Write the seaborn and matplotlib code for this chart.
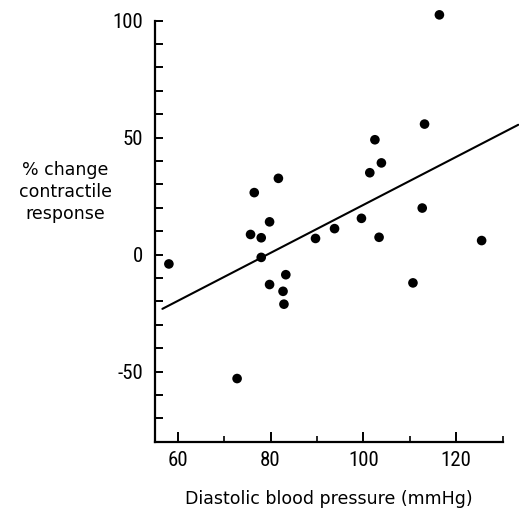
import numpy as np
import pandas as pd
import seaborn as sns
import matplotlib
matplotlib.use("Agg")
from matplotlib import pyplot as plt, font_manager
from matplotlib.ticker import MultipleLocator

# values
diastolic = [116.4, 113.2, 102.5, 103.9, 101.4, 81.7, 76.5, 112.7, 99.6, 79.8,
             93.8, 75.7, 78.0, 89.7, 103.4, 125.5, 78.0, 58.1, 83.3, 79.8,
             110.7, 82.7, 82.9, 72.8]
pct_change = [102.5, 55.8, 49.1, 39.2, 35.0, 32.6, 26.5, 19.9, 15.5, 14.0,
              11.1, 8.6, 7.2, 6.9, 7.4, 6.0, -1.2, -4.0, -8.6, -12.8,
              -12.1, -15.7, -21.2, -53.0]
# fitted line as drawn in the figure
fit_x = [56.7, 133.4]
fit_y = [-23.2, 55.5]

df = pd.DataFrame({"dbp": diastolic, "resp": pct_change})
fit = pd.DataFrame({"dbp": fit_x, "resp": fit_y})


def first_font(names):
    # pick the first narrow family that is actually installed
    for name in names:
        try:
            font_manager.findfont(font_manager.FontProperties(family=name),
                                  fallback_to_default=False)
            return name
        except ValueError:
            continue
    return "DejaVu Sans"


sns.set_style("ticks")
plt.rcParams["font.family"] = ["DejaVu Sans"]
plt.rcParams["axes.unicode_minus"] = False
for key in ["text.color", "axes.labelcolor", "xtick.color", "ytick.color", "axes.edgecolor"]:
    plt.rcParams[key] = "black"

tick_font = first_font(["Liberation Sans Narrow", "DejaVu Sans Condensed",
                        "Roboto Condensed", "Open Sans Condensed"])
tick_stretch = "normal" if tick_font != "DejaVu Sans" else "condensed"

fig = plt.figure(figsize=(5.19, 5.09), dpi=100)
ax = fig.add_axes([154.5 / 519, 1 - 441.7 / 509, 348 / 519, 421 / 509])

sns.lineplot(data=fit, x="dbp", y="resp", ax=ax, color="black", lw=1.5, clip_on=False)
sns.scatterplot(data=df, x="dbp", y="resp", ax=ax, color="black", s=48,
                edgecolor="none", clip_on=False, zorder=3)

ax.set_xlim(55, 130)
ax.set_ylim(-80, 100)
sns.despine(ax=ax)
for side in ["left", "bottom"]:
    ax.spines[side].set_linewidth(1.6)

ax.xaxis.set_major_locator(MultipleLocator(20))
ax.xaxis.set_minor_locator(MultipleLocator(10))
ax.yaxis.set_major_locator(MultipleLocator(50))
ax.yaxis.set_minor_locator(MultipleLocator(10))
ax.tick_params(axis="x", which="major", direction="in", length=7, width=1.4, pad=7)
ax.tick_params(axis="x", which="minor", direction="in", length=4, width=1.2)
ax.tick_params(axis="y", which="both", direction="in", length=6, width=1.4, pad=8)

fig.canvas.draw()
for lab in ax.get_xticklabels() + ax.get_yticklabels():
    lab.set_fontfamily(tick_font)
    lab.set_fontstretch(tick_stretch)
    lab.set_fontsize(15)

ax.set_xlabel("Diastolic blood pressure (mmHg)", fontsize=12.5, labelpad=14)
ax.set_ylabel("% change\ncontractile\nresponse", fontsize=12.5, rotation=0,
              ha="center", va="center", linespacing=1.3)
ax.yaxis.set_label_coords(-0.257, 0.593)

fig.savefig("out.png", dpi=100)
